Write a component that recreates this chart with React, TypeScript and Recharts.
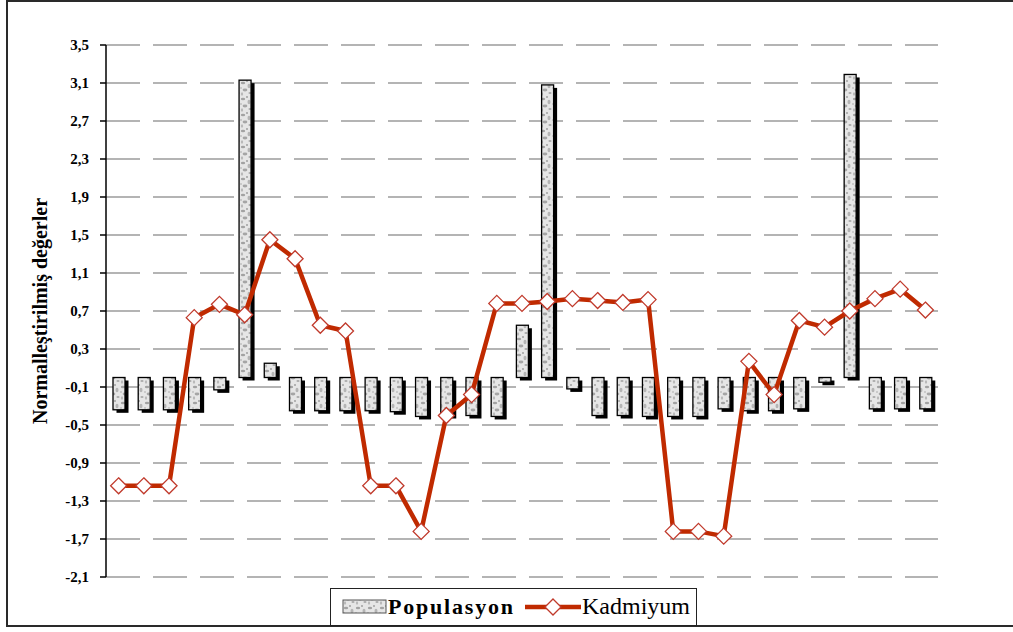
import React from 'react';
import { ComposedChart, Bar, Line, XAxis, YAxis, CartesianGrid } from 'recharts';

// sample points along the horizontal axis (unlabelled)
const stations = Array.from({ length: 33 }, (_, i) => `S${i + 1}`);

const populasyon = [
  -0.34, -0.34, -0.34, -0.34, -0.13, 3.13, 0.15, -0.35, -0.35, -0.35, -0.35,
  -0.36, -0.41, -0.40, -0.40, -0.41, 0.55, 3.08, -0.12, -0.40, -0.40, -0.41,
  -0.41, -0.41, -0.33, -0.35, -0.35, -0.33, -0.05, 3.19, -0.33, -0.33, -0.33,
];

const kadmiyum = [
  -1.14, -1.14, -1.14, 0.63, 0.77, 0.66, 1.45, 1.25, 0.55, 0.49, -1.14, -1.14,
  -1.62, -0.4, -0.18, 0.78, 0.78, 0.8, 0.83, 0.81, 0.79, 0.82, -1.62, -1.62,
  -1.67, 0.17, -0.18, 0.6, 0.53, 0.7, 0.83, 0.93, 0.71,
];

const yTicks = [-2.1, -1.7, -1.3, -0.9, -0.5, -0.1, 0.3, 0.7, 1.1, 1.5, 1.9, 2.3, 2.7, 3.1, 3.5];

const rows = stations.map((s, i) => ({
  name: s,
  populasyon: populasyon[i],
  kadmiyum: kadmiyum[i],
}));

const LINE_RED = '#c02a00';
const MARK_RED = '#c0392b';
const SERIF = "'Liberation Serif', 'DejaVu Serif', serif";

// speckled grey fill used by the bars and the legend swatch
function Granite({ id }: { id: string }) {
  return (
    <pattern id={id} width="12" height="16" patternUnits="userSpaceOnUse">
      <rect width="12" height="16" fill="#e6e6e6" />
      <ellipse cx="3" cy="3" rx="2.2" ry="1.3" fill="#8a8a8a" opacity="0.75" />
      <ellipse cx="9" cy="6" rx="1.5" ry="2.2" fill="#a8a8a8" opacity="0.8" />
      <ellipse cx="5" cy="10" rx="2.4" ry="1.4" fill="#7a7a7a" opacity="0.6" />
      <ellipse cx="10" cy="13" rx="1.6" ry="1.1" fill="#959595" opacity="0.75" />
      <ellipse cx="2" cy="14" rx="1.1" ry="1.7" fill="#b8b8b8" />
      <circle cx="7" cy="1" r="0.9" fill="#666" opacity="0.6" />
      <circle cx="1" cy="8" r="0.8" fill="#777" opacity="0.6" />
    </pattern>
  );
}

function ShadowBar(props: any) {
  let { x, y, width, height } = props;
  if (height < 0) {
    y += height;
    height = -height;
  }
  return (
    <g>
      <rect x={x + 3.5} y={y + 3} width={width} height={height} fill="#000" />
      <rect x={x} y={y} width={width} height={height} fill="url(#granite)" stroke="#000" strokeWidth={1.3} />
    </g>
  );
}

function Diamond(props: any) {
  const { cx, cy } = props;
  if (cx == null || cy == null) return null;
  const r = 8;
  return (
    <path
      d={`M${cx},${cy - r} L${cx + r},${cy} L${cx},${cy + r} L${cx - r},${cy} Z`}
      fill="#fff"
      stroke={MARK_RED}
      strokeWidth={1.3}
    />
  );
}

const fmt = (v: number) => v.toFixed(1).replace('.', ',');

export default function App() {
  return (
    <div style={{ position: 'absolute', left: 0, top: 0, width: 1013, height: 632, background: '#fff', fontFamily: SERIF, overflow: 'hidden' }}>
      <div
        style={{
          position: 'absolute',
          left: 6,
          top: 0,
          width: 1020,
          height: 627,
          border: '2px solid #2a2a2a',
          boxSizing: 'border-box',
        }}
      />
      <ComposedChart
        width={1013}
        height={632}
        data={rows}
        margin={{ top: 45, right: 75, bottom: 55, left: 0 }}
        barCategoryGap={0}
        style={{ position: 'absolute', left: 0, top: 0, fontFamily: SERIF }}
      >
        <defs>
          <Granite id="granite" />
        </defs>
        <CartesianGrid
          vertical={false}
          stroke="#b4b4b4"
          strokeWidth={2}
          strokeDasharray="34 13"
        />
        <XAxis dataKey="name" hide />
        <YAxis
          width={106}
          domain={[-2.1, 3.5]}
          ticks={yTicks}
          interval={0}
          tickFormatter={fmt}
          axisLine={{ stroke: '#000', strokeWidth: 1.5 }}
          tickLine={{ stroke: '#000', strokeWidth: 1.5 }}
          tickSize={6}
          tickMargin={11}
          tick={{ fill: '#000', fontSize: 15, fontWeight: 700, style: { fontFamily: SERIF } }}
          label={{
            value: 'Normalleştirilmiş değerler',
            angle: -90,
            position: 'insideLeft',
            offset: 0,
            dx: 40,
            style: { fill: '#000', fontSize: 20, fontWeight: 700, fontFamily: SERIF, textAnchor: 'middle' },
          }}
        />
        <Bar dataKey="populasyon" barSize={12} shape={<ShadowBar />} isAnimationActive={false} />
        <Line
          dataKey="kadmiyum"
          type="linear"
          stroke={LINE_RED}
          strokeWidth={4.5}
          dot={<Diamond />}
          activeDot={false}
          isAnimationActive={false}
        />
      </ComposedChart>

      {/* legend box under the plot */}
      <div
        style={{
          position: 'absolute',
          left: 330,
          top: 588,
          width: 367,
          height: 38,
          border: '1.5px solid #222',
          boxSizing: 'border-box',
          background: '#fff',
        }}
      >
        <svg width={364} height={35} style={{ position: 'absolute', left: 0, top: 0, fontFamily: SERIF }}>
          <defs>
            <Granite id="granite-legend" />
          </defs>
          <rect x={12} y={11} width={43} height={13} fill="url(#granite-legend)" stroke="#555" strokeWidth={1} />
          <text x={57} y={25} style={{ fontFamily: SERIF }} fontWeight={700} fontSize={22} letterSpacing={1.8} fill="#000">
            Populasyon
          </text>
          <line x1={194} y1={18} x2={250} y2={18} stroke={LINE_RED} strokeWidth={4.5} />
          <path d="M222,10 L230,18 L222,26 L214,18 Z" fill="#fff" stroke={MARK_RED} strokeWidth={1.3} />
          <text x={251} y={25} style={{ fontFamily: SERIF }} fontSize={24} fill="#000">
            Kadmiyum
          </text>
        </svg>
      </div>
    </div>
  );
}
